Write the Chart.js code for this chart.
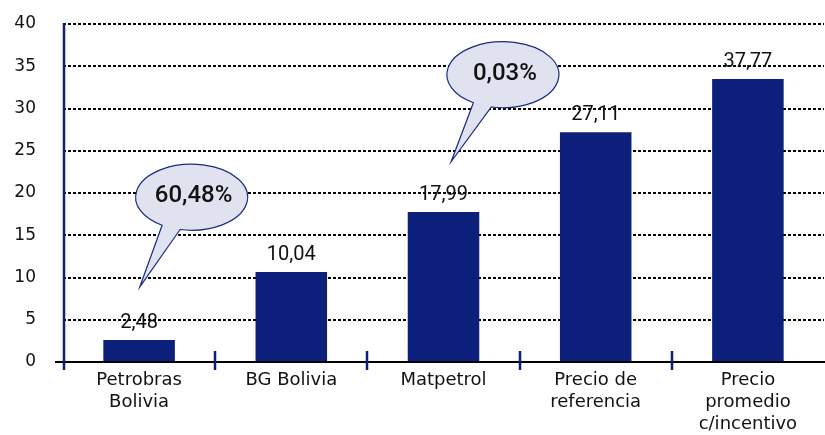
<!DOCTYPE html>
<html>
<head>
<meta charset="utf-8">
<script src="https://cdn.jsdelivr.net/npm/chart.js@4/dist/chart.umd.min.js"></script>
<style>
  html, body { margin: 0; padding: 0; background: #ffffff; }
  #wrap { width: 825px; height: 435px; position: relative; }
</style>
</head>
<body>
<div id="wrap"><canvas id="c"></canvas></div>
<script>
// ---- data ----
const categories = [["Petrobras", "Bolivia"], "BG Bolivia", "Matpetrol", ["Precio de", "referencia"], ["Precio", "promedio", "c/incentivo"]];
const barValues = [2.6, 10.65, 17.75, 27.2, 33.5];
const valueLabels = ["2,48", "10,04", "17,99", "27,11", "37,77"];
const yTicks = [0, 5, 10, 15, 20, 25, 30, 35, 40];
// callouts: text, bubble centre (category index, value), pointer tip (category index, value)
const calloutTexts = ["60,48%", "0,03%"];
const calloutCentres = [[0.345, 19.5], [2.39, 34.0]];
const calloutTips = [[0.005, 8.9], [2.05, 23.7]];

// ---- styles ----
const NAVY = "#0c1f7a";
const TEXT = "#111111";

const decorPlugin = {
  id: "decor",
  afterDatasetsDraw(chart) {
    const ctx = chart.ctx;
    const xs = chart.scales.x, ys = chart.scales.y;
    const area = chart.chartArea;
    const y0 = ys.getPixelForValue(0);
    ctx.save();
    // x axis line (black)
    ctx.strokeStyle = "#000";
    ctx.lineWidth = 2;
    ctx.beginPath();
    ctx.moveTo(area.left - 8, y0);
    ctx.lineTo(chart.width, y0);
    ctx.stroke();
    // y axis line (navy)
    ctx.strokeStyle = NAVY;
    ctx.lineWidth = 2.5;
    ctx.beginPath();
    ctx.moveTo(area.left + 1, area.top - 1);
    ctx.lineTo(area.left + 1, y0 + 8);
    ctx.stroke();
    // category separator ticks
    ctx.lineWidth = 2.5;
    for (let i = 0; i < categories.length - 1; i++) {
      const x = Math.round(xs.getPixelForValue(i + 0.5));
      ctx.beginPath();
      ctx.moveTo(x, y0 - 11);
      ctx.lineTo(x, y0 + 8);
      ctx.stroke();
    }
    // value labels above bars
    const meta = chart.getDatasetMeta(0);
    ctx.fillStyle = TEXT;
    ctx.font = "20px Roboto";
    ctx.textAlign = "center";
    ctx.textBaseline = "middle";
    meta.data.forEach((bar, i) => {
      ctx.fillText(valueLabels[i], bar.x, bar.y - 17);
    });
    // callouts
    const rx = 56, ry = 33;
    calloutTexts.forEach((txt, i) => {
      const cx = xs.getPixelForValue(calloutCentres[i][0]);
      const cy = ys.getPixelForValue(calloutCentres[i][1]);
      const tx = xs.getPixelForValue(calloutTips[i][0]);
      const ty = ys.getPixelForValue(calloutTips[i][1]);
      const aL = Math.acos(-29.5 / rx);
      const aR = Math.acos(-11.5 / rx);
      ctx.beginPath();
      ctx.moveTo(tx, ty);
      ctx.lineTo(cx + rx * Math.cos(aR), cy + ry * Math.sin(aR));
      ctx.ellipse(cx, cy, rx, ry, 0, aR, aL, true);
      ctx.closePath();
      ctx.fillStyle = "#e0e3ef";
      ctx.fill();
      ctx.strokeStyle = "#1a2a80";
      ctx.lineWidth = 1.2;
      ctx.stroke();
      ctx.fillStyle = "#111";
      ctx.font = "500 24px Roboto";
      ctx.textAlign = "center";
      ctx.textBaseline = "middle";
      ctx.fillText(txt, cx + 2, cy - 1);
    });
    ctx.restore();
  }
};

new Chart(document.getElementById("c"), {
  type: "bar",
  data: {
    labels: categories,
    datasets: [{
      data: barValues,
      backgroundColor: NAVY,
      borderWidth: 0,
      barPercentage: 0.47,
      categoryPercentage: 1.0
    }]
  },
  options: {
    responsive: true,
    maintainAspectRatio: false,
    animation: false,
    layout: { padding: { top: 24, right: 1, left: 0, bottom: 0 } },
    plugins: { legend: { display: false }, tooltip: { enabled: false } },
    scales: {
      x: {
        grid: { display: false, drawTicks: false },
        border: { display: false },
        ticks: {
          color: TEXT,
          font: { family: "DejaVu Sans", size: 18, lineHeight: 1.22 },
          padding: 7,
          maxRotation: 0,
          autoSkip: false
        },
        afterFit(scale) {
          scale.height = 73;
          scale.paddingLeft = 0; scale.paddingRight = 0;
        }
      },
      y: {
        min: 0,
        max: 40,
        afterBuildTicks(scale) { scale.ticks = yTicks.map(v => ({ value: v })); },
        grid: { color: "#000", lineWidth: 2, drawTicks: false },
        border: { display: false, dash: [3, 2] },
        ticks: {
          color: TEXT,
          font: { family: "DejaVu Sans", size: 17 },
          padding: 27
        },
        afterFit(scale) {
          scale.width = 63;
          scale.paddingTop = 0; scale.paddingBottom = 0;
        }
      }
    }
  },
  plugins: [decorPlugin]
});
</script>
</body>
</html>
